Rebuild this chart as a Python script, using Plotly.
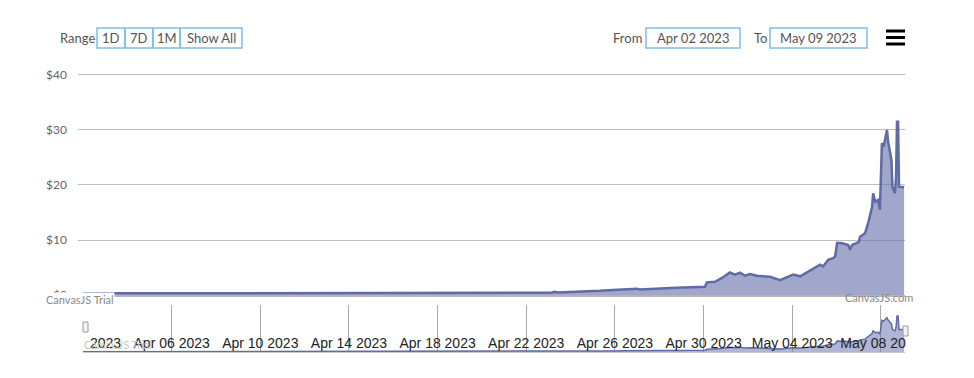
import plotly.graph_objects as go

# ---- data ----
times = [
    "2023-04-02 00:00", "2023-04-06 00:00", "2023-04-10 00:00", "2023-04-14 00:00",
    "2023-04-18 00:00", "2023-04-21 00:00", "2023-04-22 12:00", "2023-04-23 04:00",
    "2023-04-23 07:00", "2023-04-23 10:00", "2023-04-24 12:00", "2023-04-25 07:40",
    "2023-04-25 21:50", "2023-04-26 12:00", "2023-04-26 23:50", "2023-04-27 03:00",
    "2023-04-27 21:40", "2023-04-28 18:00", "2023-04-29 12:00", "2023-04-30 01:30",
    "2023-04-30 03:40", "2023-04-30 12:20", "2023-04-30 20:00", "2023-05-01 04:30",
    "2023-05-01 10:00", "2023-05-01 15:30", "2023-05-01 21:00", "2023-05-02 02:10",
    "2023-05-02 09:50", "2023-05-03 00:00", "2023-05-03 10:50", "2023-05-03 18:00",
    "2023-05-04 01:00", "2023-05-04 08:40", "2023-05-04 18:00", "2023-05-05 03:00",
    "2023-05-05 06:10", "2023-05-05 09:30", "2023-05-05 15:00", "2023-05-05 20:20",
    "2023-05-05 22:30", "2023-05-06 00:40", "2023-05-06 06:10", "2023-05-06 12:40",
    "2023-05-06 14:40", "2023-05-06 16:50", "2023-05-07 00:00", "2023-05-07 01:30",
    "2023-05-07 06:50", "2023-05-07 10:10", "2023-05-07 12:30", "2023-05-07 14:30",
    "2023-05-07 15:40", "2023-05-07 17:50", "2023-05-07 21:00", "2023-05-07 23:00",
    "2023-05-08 01:10", "2023-05-08 03:00", "2023-05-08 04:30", "2023-05-08 06:40",
    "2023-05-08 07:50", "2023-05-08 09:50", "2023-05-08 11:30", "2023-05-08 12:30",
    "2023-05-08 15:20", "2023-05-08 16:30", "2023-05-08 17:30", "2023-05-08 18:40",
    "2023-05-08 19:40", "2023-05-09 01:10",
]
prices = [
    0.30, 0.30, 0.31, 0.32,
    0.33, 0.36, 0.40, 0.45,
    0.60, 0.45, 0.55, 0.75,
    0.90, 1.05, 1.15, 1.00,
    1.20, 1.30, 1.40, 1.50,
    2.30, 2.40, 3.10, 4.10,
    3.70, 4.05, 3.50, 3.80,
    3.50, 3.30, 2.70, 3.20,
    3.70, 3.40, 4.30, 5.10,
    5.50, 5.20, 6.40, 6.70,
    7.00, 9.50, 9.40, 9.10,
    8.20, 9.10, 9.60, 10.6,
    11.2, 13.0, 14.5, 16.0,
    18.5, 17.0, 17.3, 15.5,
    27.6, 27.0, 28.2, 30.0,
    27.9, 25.8, 24.5, 19.7,
    18.5, 21.5, 31.5, 31.5,
    19.7, 19.6,
]
y_ticks = [0, 10, 20, 30, 40]
y_tick_text = ["$0", "$10", "$20", "$30", "$40"]
x_ticks = ["2023-04-02", "2023-04-06", "2023-04-10", "2023-04-14", "2023-04-18",
           "2023-04-22", "2023-04-26", "2023-04-30", "2023-05-04", "2023-05-08"]
range_buttons = ["1D", "7D", "1M", "Show All"]
from_label, to_label = "Apr 02 2023", "May 09 2023"

# ---- geometry helpers (reference pixel -> paper); page body has an 8px margin ----
OFF = 8
W, H = 974 - OFF, 378 - OFF
L, R, T, B = 78, 905, 73, 352          # plot area in reference pixels
def fx(px): return (px - L) / (R - L)
def fy(py): return (B - py) / (B - T)

LINE = "#5F6BA6"
FILL = "rgba(109,120,173,0.65)"
FONT = "Lato, 'Open Sans', sans-serif"

fig = go.Figure()
fig.add_trace(go.Scatter(x=times, y=prices, mode="lines", fill="tozeroy",
                         line=dict(color=LINE, width=2.5), fillcolor=FILL,
                         xaxis="x", yaxis="y", hoverinfo="skip"))
fig.add_trace(go.Scatter(x=times, y=prices, mode="lines", fill="tozeroy",
                         line=dict(color=LINE, width=1.5), fillcolor="rgba(109,120,173,0.55)",
                         xaxis="x2", yaxis="y2", hoverinfo="skip"))

x_end = "2023-05-09 02:10"
fig.update_layout(
    width=W, height=H, showlegend=False,
    margin=dict(l=L - OFF, r=W - (R - OFF), t=T - OFF, b=H - (B - OFF), pad=0),
    paper_bgcolor="white", plot_bgcolor="white",
    font=dict(family=FONT),
    xaxis=dict(domain=[0, 1], anchor="y", range=["2023-04-01 18:35", x_end],
               showticklabels=False, showgrid=False, zeroline=False,
               showline=True, linecolor="#B5B5B5", linewidth=2),
    yaxis=dict(domain=[fy(295), 1], anchor="x", range=[0, 40.36], tickvals=y_ticks,
               ticktext=y_tick_text, showgrid=True, gridcolor="#BDBDBD", gridwidth=1,
               zeroline=False, showline=False, ticks="", ticklabelstandoff=10,
               tickfont=dict(size=12, color="#666666", family=FONT)),
    xaxis2=dict(domain=[fx(83), 1], anchor="y2", range=["2023-04-02 00:00", x_end],
                tickvals=x_ticks, showticklabels=False,
                showgrid=True, gridcolor="#AAAAAA", gridwidth=1, zeroline=False,
                showline=True, linecolor="#C8C8C8", linewidth=1, ticks=""),
    xaxis3=dict(domain=[fx(83), 1], anchor="free", position=fy(333), overlaying="x2",
                side="bottom", range=["2023-04-02 00:00", x_end],
                tickvals=x_ticks, tickformat="%b %d %Y", showgrid=False, zeroline=False,
                showline=False, ticks="",
                tickfont=dict(size=14, color="#222222", family="Liberation Sans, Arial")),
    yaxis2=dict(domain=[0, fy(305)], anchor="x2", range=[0, 41], showticklabels=False,
                showgrid=False, zeroline=False, showline=False),
)
# invisible trace to activate xaxis3
fig.add_trace(go.Scatter(x=[times[0]], y=[None], xaxis="x3", yaxis="y2",
                         mode="markers", hoverinfo="skip", showlegend=False))

shapes = []
annots = []

def rect(x0, y0, x1, y1, line="#7FBDEB", fill="rgba(0,0,0,0)", w=1.5):
    shapes.append(dict(type="rect", xref="paper", yref="paper",
                       x0=fx(x0), x1=fx(x1), y0=fy(y1), y1=fy(y0),
                       line=dict(color=line, width=w), fillcolor=fill, layer="above"))

def text(px, py, s, size=13, color="#555555", anchor="center", family=FONT, bg=None):
    d = dict(x=fx(px), y=fy(py), xref="paper", yref="paper", text=s, showarrow=False,
             xanchor=anchor, yanchor="middle", font=dict(size=size, color=color, family=family))
    if bg:
        d["bgcolor"] = bg
        d["borderpad"] = 0
    annots.append(d)

# toolbar: range buttons
text(58, 38, "Range", anchor="left")
bx = [97, 125, 153, 180, 242]
for i, lab in enumerate(range_buttons):
    rect(bx[i], 28, bx[i + 1], 48)
    text((bx[i] + bx[i + 1]) / 2, 38, lab)
# from / to inputs
text(611, 38, "From", anchor="left")
rect(646, 28, 740, 48)
text(693, 38, from_label)
text(752, 38, "To", anchor="left")
rect(770, 28, 867, 48)
text(818, 38, to_label)
# hamburger menu
for yy in (31, 37.5, 44):
    rect(886, yy - 1.5, 905, yy + 1.5, line="black", fill="black", w=0)

# clip navigator labels at navigator edges
rect(0, 330, 87, 351, line="white", fill="white", w=0)
rect(906, 330, 974, 351, line="white", fill="white", w=0)
# navigator handles
rect(83, 322, 88, 332, line="#999999", fill="#F2F2F2", w=1)
rect(903, 326, 908, 336, line="#999999", fill="#F2F2F2", w=1)

# watermarks
text(80, 299.5, "CanvasJS Trial", size=11, color="#8A8A8A", bg="white")
text(879, 297, "CanvasJS.com", size=11, color="#8A8A8A")
text(118, 344, "CanvasJS Trial", size=11, color="#C8C8C8")

fig.update_layout(shapes=shapes, annotations=annots)
fig.write_html("out.html")
